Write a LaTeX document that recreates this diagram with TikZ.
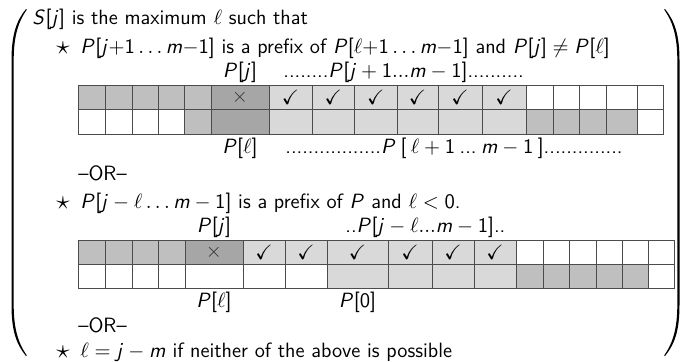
\documentclass[tikz,border=0pt]{standalone}
\usepackage{amsmath,amssymb}
\usepackage{xcolor}
\usepackage{tikz}
\usetikzlibrary{positioning}

% sans letters and digits in math, as on a slide
\DeclareSymbolFont{sfletters}{OT1}{cmss}{m}{sl}
\DeclareSymbolFont{sfdigits}{OT1}{cmss}{m}{n}
\DeclareMathSymbol{P}{\mathalpha}{sfletters}{`P}
\DeclareMathSymbol{S}{\mathalpha}{sfletters}{`S}
\DeclareMathSymbol{j}{\mathalpha}{sfletters}{`j}
\DeclareMathSymbol{m}{\mathalpha}{sfletters}{`m}
\DeclareMathSymbol{0}{\mathalpha}{sfdigits}{`0}
\DeclareMathSymbol{1}{\mathalpha}{sfdigits}{`1}
\DeclareMathSymbol{[}{\mathopen}{sfdigits}{`[}
\DeclareMathSymbol{]}{\mathclose}{sfdigits}{`]}

\definecolor{cmed}{HTML}{BFBFBF}
\definecolor{cdark}{HTML}{A6A6A6}
\definecolor{clight}{HTML}{D9D9D9}
\newcommand{\xm}{\textcolor{black!80}{$\times$}}
\newcommand{\ck}{$\checkmark$}
\newcommand{\bstar}{$\star$}
\newcommand{\gap}{\hspace{0.22em}}

\begin{document}
\begin{tikzpicture}[x=0.5312pt,y=-0.5312pt,
  txt/.style={anchor=base west,inner sep=0pt,font=\fontsize{11}{13}\sffamily},
  lbl/.style={anchor=base,inner sep=0pt,font=\fontsize{11}{13}\sffamily},
  itm/.style={anchor=base west,inner sep=0pt,font=\fontsize{14}{16}\selectfont},
  cell/.style={draw=black!70,line width=0.5pt},
  tick/.style={inner sep=0pt,font=\fontsize{11}{13}\sffamily}
]
\useasboundingbox (0,0) rectangle (683,361);

% big parentheses
\fill (26,9) .. controls (16,21) and (11.5,36) .. (11.5,60) -- (11.5,305)
  .. controls (11.5,330) and (16,344) .. (26,356) -- (26.8,355.4)
  .. controls (18,343) and (13.7,328) .. (13.7,305) -- (13.7,60)
  .. controls (13.7,37) and (18,22) .. (26.8,9.6) -- cycle;
\fill (665,9) .. controls (675,21) and (679.5,36) .. (679.5,60) -- (679.5,305)
  .. controls (679.5,330) and (675,344) .. (665,356) -- (664.2,355.4)
  .. controls (673,343) and (677.3,328) .. (677.3,305) -- (677.3,60)
  .. controls (677.3,37) and (673,22) .. (664.2,9.6) -- cycle;

% text lines
\node[txt] (title) at (32,24) {$S[j]$ is the maximum $\ell$ such that};
\node[itm] (star1) at (56,54) {\bstar};
\node[txt] (item1) at (80,53) {$P[j{+}1\ldots m{-}1]$ is a prefix of $P[\ell{+}1\ldots m{-}1]$ and $P[j]\neq P[\ell]$};

% first array
\foreach \xa/\xb/\up/\dn in {
  78/105/cmed/white, 105/132/cmed/white, 132/158/cmed/white,
  158/184.5/cmed/white, 184.5/211/cmed/cmed, 211/269/cdark/cdark,
  269/312/clight/clight, 312/354.5/clight/clight, 354.5/397/clight/clight,
  397/438/clight/clight, 438/482/clight/clight, 482/526/clight/clight,
  526/553/white/cmed, 553/579/white/cmed, 579/606/white/cmed,
  606/637/white/cmed, 637/663/white/white}
{
  \draw[cell,fill=\up] (\xa,85) rectangle (\xb,109);
  \draw[cell,fill=\dn] (\xa,109) rectangle (\xb,134);
}
\node[tick] (xa) at (240,97) {\xm};
\foreach \x [count=\i] in {290.5,333.25,375.75,417.5,460,504}
  \node[tick] (ca\i) at (\x,97) {\ck};
\node[lbl] (pj1) at (240,77) {$P[j]$};
\node[txt] (suf1) at (283,77) {........$P[j+1...m-1]$..........};
\node[lbl] (pl1) at (240,153) {$P[\ell]$};
\node[txt] (suf2) at (285,153) {.................$P$\gap[\gap$\ell+1$\gap...\gap$m-1$\gap]..............};
\node[txt] (or1) at (78,180) {--OR--};

\node[itm] (star2) at (56,209) {\bstar};
\node[txt] (item2) at (80,208) {$P[j-\ell\ldots m-1]$ is a prefix of $P$ and $\ell<0$.};

% second array
\foreach \xa/\xb/\up/\dn in {
  78/105/cmed/white, 105/132/cmed/white, 132/158/cmed/white,
  158/185/cmed/white, 185/243/cdark/white, 243/285/clight/white,
  285/327/clight/white, 327/388/clight/clight, 388/432/clight/clight,
  432/474/clight/clight, 474/516/clight/clight, 516/543/white/cmed,
  543/569/white/cmed, 569/596/white/cmed, 596/622/white/cmed,
  622/648/white/cmed, 648/674/white/white}
{
  \draw[cell,fill=\up] (\xa,240) rectangle (\xb,264);
  \draw[cell,fill=\dn] (\xa,264) rectangle (\xb,288);
}
\node[tick] (xb) at (214,252) {\xm};
\foreach \x [count=\i] in {264,306,357.5,410,453,495}
  \node[tick] (cb\i) at (\x,252) {\ck};
\node[lbl] (pj2) at (214,232) {$P[j]$};
\node[txt] (suf3) at (345,232) {..$P[j-\ell...m-1]$..};
\node[lbl] (pl2) at (214,307) {$P[\ell]$};
\node[lbl] (p0) at (357.5,307) {$P[0]$};
\node[txt] (or2) at (78,332) {--OR--};

\node[itm] (star3) at (56,358) {\bstar};
\node[txt] (item3) at (80,357) {$\ell = j - m$ if neither of the above is possible};
\end{tikzpicture}
\end{document}
